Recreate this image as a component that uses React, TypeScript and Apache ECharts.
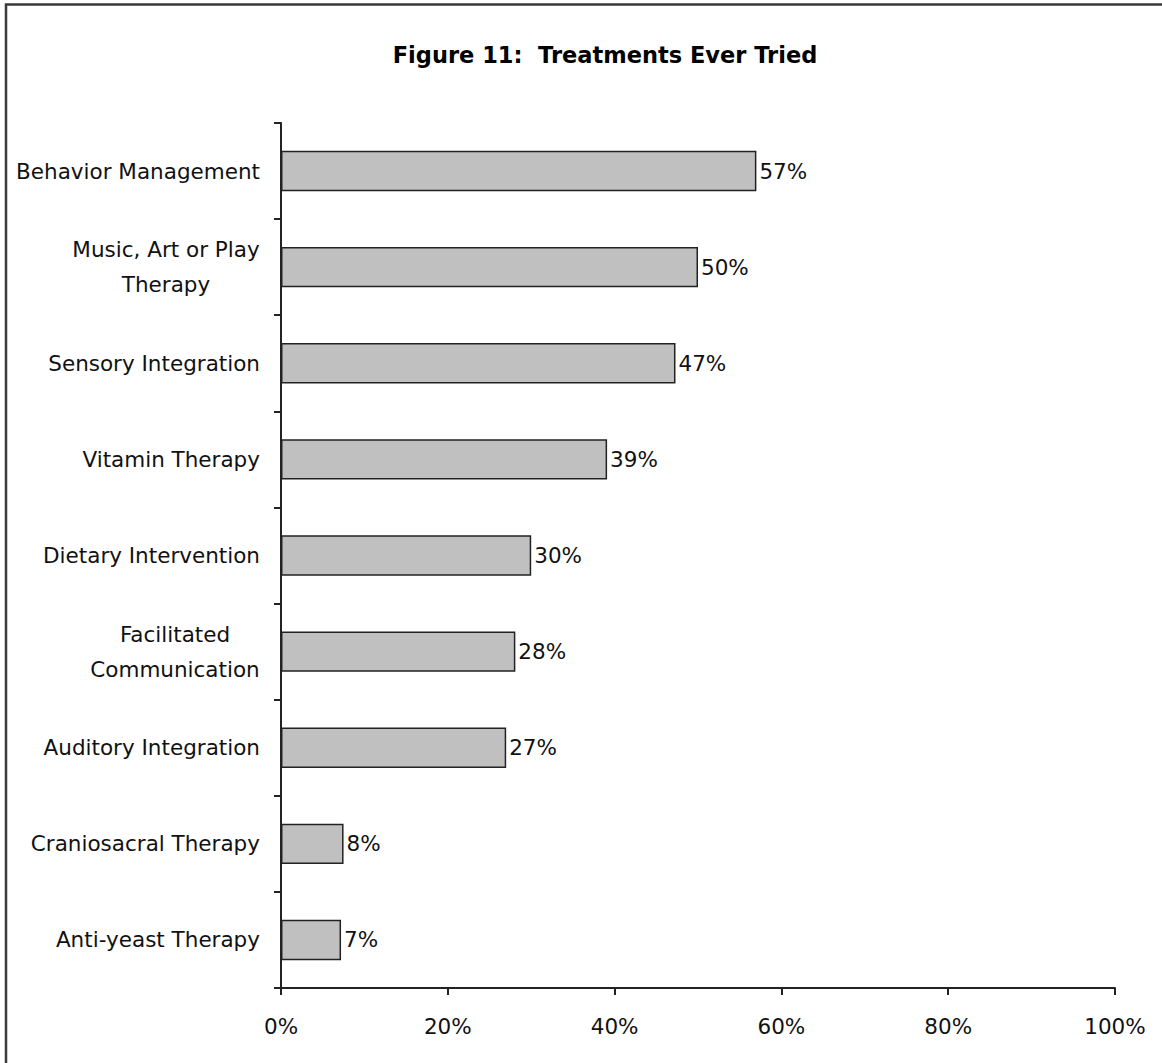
import React, { useEffect, useRef } from "react";
import * as echarts from "echarts";

const titleText = "Figure 11:  Treatments Ever Tried";
const categories = [
  "Behavior Management",
  "Music, Art or Play\nTherapy",
  "Sensory Integration",
  "Vitamin Therapy",
  "Dietary Intervention",
  "Facilitated\nCommunication",
  "Auditory Integration",
  "Craniosacral Therapy",
  "Anti-yeast Therapy",
];
const values = [57, 50, 47.3, 39.1, 30, 28.1, 27, 7.5, 7.2];
const xTicks = [0, 20, 40, 60, 80, 100];

const FONT = "DejaVu Sans, Verdana, sans-serif";
const FS = 21.5;

function measure(text: string): number {
  const c = document.createElement("canvas").getContext("2d");
  if (!c) return text.length * FS * 0.55;
  c.font = `${FS}px ${FONT}`;
  return c.measureText(text).width;
}

export default function App() {
  const ref = useRef<HTMLDivElement>(null);
  useEffect(() => {
    document.body.style.margin = "0";
    if (!ref.current) return;
    const chart = echarts.init(ref.current, null, { renderer: "svg" });
    const rich: Record<string, any> = {};
    const keyFor: Record<string, string> = {};
    categories.forEach((c, i) => {
      if (c.includes("\n")) {
        const w = Math.max(...c.split("\n").map(measure));
        const k = "m" + i;
        rich[k] = { width: Math.ceil(w), align: "center", fontSize: FS, fontFamily: FONT, color: "#111", lineHeight: 35 };
        keyFor[c] = k;
      }
    });
    chart.setOption({
      animation: false,
      backgroundColor: "#ffffff",
      textStyle: { fontFamily: FONT },
      title: {
        text: titleText,
        left: 600,
        textAlign: "center",
        top: 38,
        textStyle: { fontSize: 22.5, fontWeight: "bold", color: "#000", fontFamily: FONT },
      },
      graphic: [
        {
          type: "rect",
          shape: { x: 6, y: 4.5, width: 1200, height: 1100 },
          style: { fill: "none", stroke: "#3a3a3a", lineWidth: 2.5 },
          silent: true,
        },
      ],
      grid: { left: 281, right: 47, top: 123, bottom: 75, containLabel: false },
      xAxis: {
        type: "value",
        min: xTicks[0],
        max: xTicks[xTicks.length - 1],
        interval: 20,
        splitLine: { show: false },
        axisLine: { show: true, lineStyle: { color: "#222", width: 2 } },
        axisTick: { show: true, inside: false, length: 7, lineStyle: { color: "#222", width: 2 } },
        axisLabel: { formatter: "{value}%", fontSize: FS, color: "#111", margin: 27, fontFamily: FONT },
      },
      yAxis: {
        type: "category",
        data: categories,
        inverse: true,
        axisLine: { show: true, lineStyle: { color: "#222", width: 2 } },
        axisTick: { show: true, inside: false, length: 7, alignWithLabel: false, lineStyle: { color: "#222", width: 2 } },
        axisLabel: {
          fontSize: FS,
          color: "#111",
          margin: 21,
          lineHeight: 35,
          fontFamily: FONT,
          rich,
          formatter: (v: string) => {
            const k = keyFor[v];
            if (!k) return v;
            return v.split("\n").map((l) => `{${k}|${l}}`).join("\n");
          },
        },
      },
      series: [
        {
          type: "bar",
          data: values,
          barWidth: "42%",
          itemStyle: { color: "#c0c0c0", borderColor: "#222", borderWidth: 1.5 },
          label: {
            show: true,
            position: "right",
            distance: 3,
            fontSize: FS,
            color: "#111",
            fontFamily: FONT,
            formatter: (p: any) => `${Math.round(p.value)}%`,
          },
        },
      ],
    });
    return () => chart.dispose();
  }, []);
  return <div ref={ref} style={{ width: 1162, height: 1063 }} />;
}
